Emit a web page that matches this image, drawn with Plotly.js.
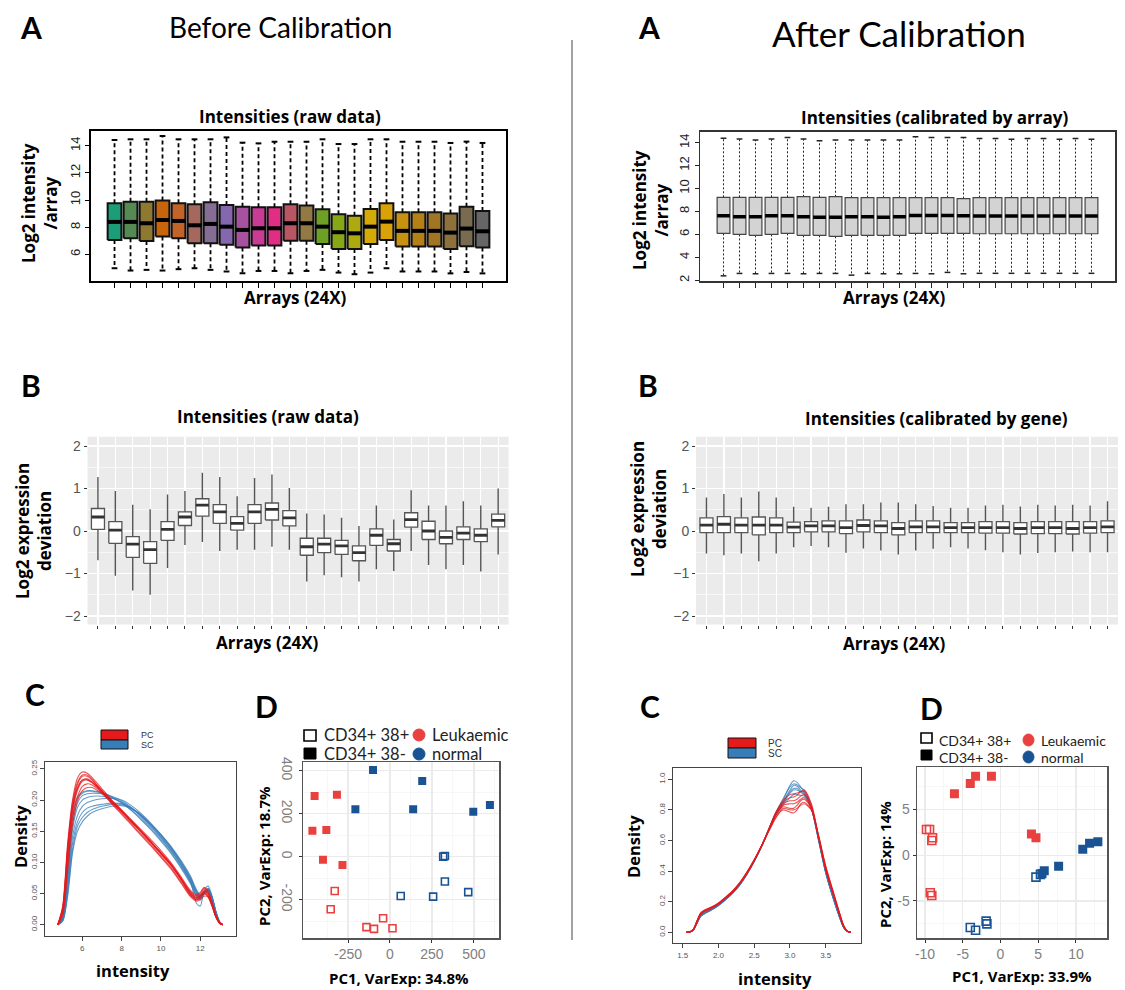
<!DOCTYPE html>
<html><head><meta charset="utf-8">
<script src="https://cdn.plot.ly/plotly-3.0.1.min.js"></script>
<style>html,body{margin:0;padding:0;background:#fff}#chart{width:1125px;height:990px}svg text{font-variant-ligatures:none}</style>
</head><body><div id="chart"></div>
<script>
const W = 1125, H = 990;

// ---------- categories ----------
const arrayIdx = [1,2,3,4,5,6,7,8,9,10,11,12,13,14,15,16,17,18,19,20,21,22,23,24];
const arrayColors = ['#1B9E77','#558B53','#8F7830','#C8640C','#C36328','#A5685E','#866D94','#8467AE','#A751A1','#C93B95','#E12E85','#BA5564','#937A44','#6CA123','#87A717','#AEA90E','#D5AA06','#DBA207','#C7920F','#B48117','#A07523','#8D703A','#796B50','#666666'];

// ---------- A: intensities raw (log2) ----------
const rawHigh = [14.42,14.47,14.47,14.71,14.47,14.47,14.47,14.61,14.22,14.17,14.29,14.29,14.29,14.47,14.12,14.12,14.47,14.47,14.29,14.29,14.29,14.2,14.3,14.2];
const rawQ3   = [9.76,9.88,9.88,9.96,9.76,9.69,9.83,9.64,9.51,9.47,9.47,9.69,9.59,9.32,8.95,8.85,9.34,9.76,9.10,9.10,9.10,9.0,9.5,9.2];
const rawMed  = [8.39,8.39,8.29,8.53,8.46,8.14,8.24,8.04,7.80,7.92,7.92,8.29,8.29,8.04,7.63,7.55,8.04,8.41,7.73,7.73,7.73,7.6,7.9,7.7];
const rawQ1   = [7.06,7.19,6.99,7.31,7.19,6.82,6.82,6.70,6.50,6.65,6.65,7.01,7.01,6.77,6.40,6.40,6.77,7.06,6.57,6.57,6.57,6.4,6.6,6.5];
const rawLow  = [4.98,4.81,4.86,4.81,4.91,4.98,4.86,4.74,4.61,4.78,4.78,4.61,4.78,4.86,4.66,4.54,4.66,4.98,4.74,4.74,4.74,4.6,4.7,4.6];

// ---------- A: intensities calibrated by array ----------
const calHigh = [14.38,14.32,14.23,14.32,14.44,14.32,14.17,14.23,14.23,14.23,14.23,14.23,14.52,14.44,14.44,14.44,14.35,14.35,14.3,14.35,14.35,14.3,14.35,14.3];
const calQ3   = [9.23,9.23,9.23,9.23,9.23,9.28,9.23,9.28,9.20,9.20,9.20,9.20,9.20,9.20,9.20,9.12,9.2,9.2,9.2,9.2,9.2,9.2,9.2,9.2];
const calMed  = [7.62,7.54,7.54,7.62,7.62,7.54,7.48,7.48,7.54,7.54,7.48,7.54,7.65,7.65,7.65,7.62,7.6,7.6,7.6,7.6,7.6,7.6,7.6,7.6];
const calQ1   = [6.08,5.99,5.91,5.99,6.08,5.91,5.91,5.82,5.91,5.91,5.91,5.91,6.08,6.08,6.08,6.08,6.05,6.05,6.05,6.05,6.05,6.05,6.05,6.05];
const calLow  = [2.38,2.59,2.56,2.59,2.59,2.56,2.59,2.59,2.44,2.59,2.56,2.56,2.59,2.56,2.68,2.56,2.6,2.6,2.6,2.6,2.6,2.6,2.6,2.6];

// ---------- B: expression deviation raw ----------
const devRawHigh = [1.27,0.94,0.62,0.51,0.86,0.94,1.37,1.27,0.82,1.25,1.33,1.01,0.41,0.39,0.31,0.12,0.60,0.27,0.96,0.6,0.6,0.7,0.6,1.0];
const devRawQ3   = [0.53,0.22,-0.13,-0.25,0.22,0.45,0.76,0.62,0.34,0.62,0.66,0.48,-0.17,-0.17,-0.22,-0.35,0.05,-0.20,0.43,0.23,0.0,0.1,0.05,0.4];
const devRawMed  = [0.33,0.02,-0.31,-0.44,0.04,0.33,0.61,0.45,0.18,0.45,0.51,0.31,-0.37,-0.31,-0.35,-0.51,-0.10,-0.30,0.27,0.0,-0.15,-0.05,-0.1,0.25];
const devRawQ1   = [0.04,-0.29,-0.62,-0.76,-0.22,0.13,0.35,0.18,0.02,0.18,0.26,0.12,-0.57,-0.51,-0.55,-0.70,-0.34,-0.47,0.09,-0.2,-0.3,-0.2,-0.25,0.1];
const devRawLow  = [-0.69,-1.05,-1.40,-1.50,-0.87,-0.33,-0.26,-0.47,-0.44,-0.44,-0.37,-0.44,-1.19,-1.04,-1.09,-1.19,-0.90,-0.94,-0.47,-0.8,-0.9,-0.8,-0.95,-0.55];

// ---------- B: expression deviation calibrated by gene ----------
const devGeneHigh = [0.79,0.87,0.79,0.93,0.79,0.57,0.55,0.57,0.63,0.63,0.67,0.67,0.63,0.59,0.55,0.55,0.6,0.62,0.58,0.62,0.6,0.62,0.6,0.7];
const devGeneQ3   = [0.31,0.34,0.31,0.33,0.31,0.21,0.22,0.24,0.24,0.26,0.24,0.20,0.24,0.24,0.20,0.20,0.22,0.22,0.2,0.22,0.22,0.22,0.22,0.24];
const devGeneMed  = [0.14,0.16,0.14,0.14,0.14,0.09,0.12,0.12,0.08,0.13,0.12,0.06,0.10,0.10,0.08,0.08,0.08,0.08,0.06,0.08,0.08,0.06,0.08,0.1];
const devGeneQ1   = [-0.04,-0.04,-0.04,-0.09,-0.04,-0.04,-0.02,-0.02,-0.06,-0.02,-0.04,-0.09,-0.04,-0.04,-0.04,-0.04,-0.05,-0.05,-0.07,-0.06,-0.06,-0.07,-0.05,-0.04];
const devGeneLow  = [-0.53,-0.57,-0.53,-0.71,-0.53,-0.38,-0.35,-0.38,-0.51,-0.41,-0.46,-0.55,-0.46,-0.42,-0.38,-0.41,-0.45,-0.5,-0.55,-0.52,-0.5,-0.48,-0.5,-0.5];

// ---------- C: density before calibration ----------
const densRawX = [4.75,5.0,5.25,5.5,5.75,6.0,6.25,6.5,7.0,7.5,8.0,8.5,9.0,9.5,10.0,10.5,11.0,11.5,11.8,12.0,12.2,12.4,12.6,12.8,13.0,13.15];
const densRawPC = [
 [0,0.03,0.13,0.2,0.235,0.245,0.243,0.236,0.218,0.2,0.184,0.167,0.15,0.133,0.115,0.097,0.075,0.05,0.042,0.046,0.05,0.045,0.03,0.012,0.002,0],
 [0,0.025,0.12,0.19,0.225,0.238,0.238,0.232,0.215,0.198,0.182,0.165,0.148,0.131,0.113,0.095,0.073,0.048,0.04,0.044,0.052,0.047,0.032,0.013,0.002,0],
 [0,0.02,0.105,0.18,0.215,0.23,0.232,0.228,0.214,0.198,0.182,0.166,0.149,0.132,0.114,0.096,0.074,0.05,0.043,0.047,0.055,0.05,0.034,0.014,0.003,0],
 [0,0.018,0.095,0.17,0.205,0.222,0.226,0.224,0.212,0.197,0.182,0.166,0.15,0.133,0.116,0.098,0.076,0.053,0.046,0.05,0.058,0.052,0.035,0.015,0.003,0],
 [0,0.028,0.125,0.195,0.228,0.24,0.24,0.233,0.213,0.194,0.177,0.16,0.143,0.126,0.108,0.09,0.068,0.045,0.038,0.04,0.046,0.044,0.03,0.012,0.002,0],
 [0,0.022,0.11,0.185,0.218,0.232,0.234,0.229,0.215,0.199,0.184,0.168,0.152,0.136,0.119,0.1,0.078,0.055,0.048,0.052,0.06,0.054,0.036,0.015,0.003,0],
 [0,0.015,0.085,0.16,0.198,0.215,0.22,0.22,0.21,0.196,0.181,0.165,0.149,0.132,0.115,0.097,0.075,0.052,0.044,0.047,0.053,0.05,0.034,0.014,0.003,0],
 [0,0.026,0.118,0.188,0.22,0.232,0.233,0.228,0.212,0.195,0.179,0.162,0.145,0.128,0.11,0.092,0.07,0.047,0.04,0.043,0.05,0.046,0.031,0.012,0.002,0]
];
const densRawSC = [
 [0,0.012,0.09,0.175,0.205,0.213,0.215,0.215,0.212,0.205,0.196,0.184,0.17,0.154,0.136,0.117,0.094,0.068,0.048,0.042,0.05,0.054,0.04,0.018,0.003,0],
 [0,0.01,0.075,0.16,0.195,0.207,0.21,0.211,0.21,0.206,0.199,0.188,0.174,0.158,0.14,0.12,0.097,0.07,0.05,0.043,0.052,0.057,0.042,0.019,0.003,0],
 [0,0.008,0.06,0.14,0.175,0.19,0.196,0.199,0.202,0.203,0.2,0.191,0.178,0.162,0.144,0.124,0.101,0.074,0.053,0.045,0.053,0.058,0.044,0.02,0.004,0],
 [0,0.006,0.05,0.12,0.158,0.172,0.18,0.185,0.19,0.193,0.193,0.187,0.176,0.161,0.144,0.125,0.102,0.076,0.055,0.046,0.052,0.058,0.045,0.021,0.004,0],
 [0,0.011,0.085,0.17,0.202,0.211,0.214,0.214,0.211,0.204,0.195,0.183,0.168,0.152,0.134,0.115,0.092,0.066,0.046,0.04,0.049,0.055,0.041,0.018,0.003,0],
 [0,0.007,0.055,0.13,0.165,0.18,0.187,0.19,0.193,0.195,0.194,0.187,0.175,0.16,0.142,0.123,0.1,0.073,0.052,0.044,0.05,0.056,0.044,0.02,0.004,0],
 [0,0.009,0.07,0.152,0.188,0.2,0.204,0.206,0.206,0.203,0.197,0.187,0.173,0.157,0.139,0.12,0.097,0.07,0.035,0.03,0.055,0.062,0.046,0.021,0.004,0],
 [0,0.006,0.045,0.115,0.15,0.165,0.174,0.18,0.186,0.19,0.191,0.186,0.175,0.161,0.145,0.126,0.104,0.078,0.057,0.048,0.053,0.057,0.044,0.02,0.004,0]
];

// ---------- C: density after calibration ----------
const densCalX = [1.55,1.6,1.65,1.7,1.75,1.8,1.9,2.0,2.1,2.2,2.3,2.4,2.5,2.6,2.7,2.8,2.9,3.0,3.05,3.1,3.15,3.2,3.3,3.4,3.5,3.6,3.7,3.75,3.8,3.85];
const densCalPC = [
 [0,0.003,0.02,0.075,0.125,0.142,0.163,0.19,0.228,0.27,0.325,0.395,0.475,0.565,0.66,0.75,0.80,0.785,0.78,0.80,0.84,0.85,0.80,0.63,0.43,0.27,0.115,0.045,0.009,0],
 [0,0.003,0.02,0.072,0.12,0.138,0.16,0.188,0.226,0.268,0.322,0.39,0.47,0.56,0.66,0.76,0.82,0.81,0.81,0.83,0.86,0.87,0.81,0.62,0.42,0.265,0.112,0.043,0.008,0],
 [0,0.003,0.019,0.07,0.118,0.136,0.158,0.186,0.224,0.266,0.32,0.388,0.468,0.56,0.665,0.77,0.84,0.86,0.86,0.87,0.89,0.90,0.82,0.62,0.415,0.26,0.108,0.04,0.008,0],
 [0,0.002,0.018,0.068,0.115,0.134,0.156,0.184,0.222,0.264,0.318,0.386,0.466,0.56,0.67,0.78,0.85,0.88,0.885,0.895,0.92,0.93,0.84,0.63,0.41,0.255,0.105,0.038,0.007,0],
 [0,0.003,0.021,0.076,0.126,0.144,0.165,0.192,0.23,0.272,0.326,0.394,0.472,0.56,0.655,0.745,0.81,0.80,0.80,0.81,0.83,0.84,0.80,0.635,0.435,0.275,0.118,0.046,0.009,0],
 [0,0.003,0.02,0.073,0.121,0.139,0.161,0.189,0.227,0.269,0.323,0.392,0.472,0.562,0.662,0.765,0.83,0.84,0.84,0.85,0.87,0.88,0.815,0.625,0.42,0.262,0.11,0.042,0.008,0],
 [0,0.002,0.018,0.069,0.116,0.135,0.157,0.185,0.223,0.265,0.319,0.387,0.467,0.562,0.668,0.78,0.86,0.90,0.905,0.91,0.92,0.92,0.83,0.62,0.41,0.255,0.105,0.038,0.007,0]
];
const densCalSC = [
 [0,0.002,0.015,0.06,0.105,0.122,0.147,0.176,0.215,0.258,0.312,0.382,0.465,0.56,0.67,0.78,0.86,0.96,0.99,0.98,0.95,0.92,0.81,0.60,0.39,0.23,0.09,0.032,0.006,0],
 [0,0.002,0.015,0.06,0.104,0.121,0.146,0.175,0.214,0.257,0.311,0.381,0.464,0.558,0.668,0.775,0.85,0.93,0.96,0.955,0.93,0.91,0.81,0.605,0.392,0.232,0.092,0.033,0.006,0],
 [0,0.002,0.016,0.062,0.107,0.124,0.149,0.178,0.217,0.26,0.314,0.384,0.466,0.56,0.668,0.772,0.84,0.91,0.93,0.93,0.915,0.90,0.81,0.61,0.395,0.235,0.094,0.034,0.006,0],
 [0,0.002,0.016,0.063,0.108,0.125,0.15,0.179,0.218,0.261,0.315,0.385,0.467,0.56,0.665,0.768,0.83,0.88,0.90,0.90,0.895,0.89,0.81,0.61,0.397,0.236,0.095,0.035,0.007,0],
 [0,0.002,0.015,0.059,0.103,0.12,0.145,0.174,0.213,0.256,0.31,0.38,0.463,0.558,0.67,0.782,0.87,0.95,0.97,0.965,0.945,0.93,0.82,0.605,0.39,0.23,0.09,0.032,0.006,0],
 [0,0.002,0.016,0.061,0.106,0.123,0.148,0.177,0.216,0.259,0.313,0.383,0.465,0.559,0.667,0.775,0.845,0.92,0.94,0.94,0.92,0.905,0.81,0.607,0.393,0.233,0.093,0.033,0.006,0]
];

// ---------- D: PCA ----------
const pcaRawX = [-449,-316,-462,-379,-399,-283,-101,-206,192,138,496,595,-329,-353,-140,-95,-41,15,64,257,327,317,327,466];
const pcaRawY = [282,288,121,124,-15,-39,403,220,352,220,209,240,-160,-245,-328,-336,-287,-333,-183,-186,3,0,-116,-165];
const pcaCalX = [-6.1,-4.0,-3.3,-1.2,4.1,4.7,5.5,5.8,7.7,10.9,11.8,12.9,-9.8,-9.4,-9.0,-9.1,-9.3,-9.1,-4.0,-3.3,-1.9,-1.8,4.7,5.3];
const pcaCalY = [6.7,7.8,8.6,8.6,2.3,1.9,-2.0,-1.7,-1.2,0.65,1.3,1.45,2.8,2.8,1.9,1.6,-4.1,-4.4,-7.9,-8.2,-7.2,-7.5,-2.4,-2.1];
const pcaStatus = ['Leukaemic','Leukaemic','Leukaemic','Leukaemic','Leukaemic','Leukaemic','normal','normal','normal','normal','normal','normal','Leukaemic','Leukaemic','Leukaemic','Leukaemic','Leukaemic','Leukaemic','normal','normal','normal','normal','normal','normal'];
const pcaCell = ['CD34+ 38-','CD34+ 38-','CD34+ 38-','CD34+ 38-','CD34+ 38-','CD34+ 38-','CD34+ 38-','CD34+ 38-','CD34+ 38-','CD34+ 38-','CD34+ 38-','CD34+ 38-','CD34+ 38+','CD34+ 38+','CD34+ 38+','CD34+ 38+','CD34+ 38+','CD34+ 38+','CD34+ 38+','CD34+ 38+','CD34+ 38+','CD34+ 38+','CD34+ 38+','CD34+ 38+'];

// ---------- helpers ----------
const dx = (a, b) => [a / W, b / W];
const dy = (top, bot) => [1 - bot / H, 1 - top / H];
const traces = [];

function boxSet(xa, ya, hi, q3, med, q1, lo, st) {
  const wx = [], wy = [], cx = [], cy = [], mx = [], my = [];
  arrayIdx.forEach((c, i) => {
    wx.push(c, c, null, c, c, null); wy.push(q3[i], hi[i], null, q1[i], lo[i], null);
    if (st.cap) { cx.push(c - st.cap, c + st.cap, null, c - st.cap, c + st.cap, null); cy.push(hi[i], hi[i], null, lo[i], lo[i], null); }
    mx.push(c - st.hw, c + st.hw, null); my.push(med[i], med[i], null);
  });
  traces.push({type:'scatter', mode:'lines', x:wx, y:wy, xaxis:xa, yaxis:ya, line:{color:st.wColor, width:st.wWidth, dash:st.wDash}, hoverinfo:'skip'});
  if (st.cap) traces.push({type:'scatter', mode:'lines', x:cx, y:cy, xaxis:xa, yaxis:ya, line:{color:st.cColor, width:st.cWidth}, hoverinfo:'skip'});
  arrayIdx.forEach((c, i) => {
    traces.push({type:'scatter', mode:'lines', x:[c - st.hw, c + st.hw, c + st.hw, c - st.hw, c - st.hw], y:[q1[i], q1[i], q3[i], q3[i], q1[i]],
      xaxis:xa, yaxis:ya, fill:'toself', fillcolor: st.fills ? st.fills[i] : st.fill, line:{color:st.bColor, width:st.bWidth}, hoverinfo:'skip'});
  });
  traces.push({type:'scatter', mode:'lines', x:mx, y:my, xaxis:xa, yaxis:ya, line:{color:st.mColor, width:st.mWidth}, hoverinfo:'skip'});
}

boxSet('x', 'y', rawHigh, rawQ3, rawMed, rawQ1, rawLow, {hw:0.43, cap:0.18, wColor:'#000', wWidth:1.8, wDash:'4px,3px', cColor:'#000', cWidth:2, fills:arrayColors, bColor:'#111', bWidth:2, mColor:'#000', mWidth:4});
boxSet('x2', 'y2', calHigh, calQ3, calMed, calQ1, calLow, {hw:0.4, cap:0.18, wColor:'#222', wWidth:1, wDash:'2px,2px', cColor:'#222', cWidth:1.5, fill:'#D3D3D3', bColor:'#444', bWidth:1.2, mColor:'#000', mWidth:3.5});
boxSet('x3', 'y3', devRawHigh, devRawQ3, devRawMed, devRawQ1, devRawLow, {hw:0.375, cap:0, wColor:'#555', wWidth:1.4, wDash:'solid', fill:'#FFFFFF', bColor:'#555', bWidth:1.3, mColor:'#333', mWidth:2.8});
boxSet('x4', 'y4', devGeneHigh, devGeneQ3, devGeneMed, devGeneQ1, devGeneLow, {hw:0.375, cap:0, wColor:'#555', wWidth:1.4, wDash:'solid', fill:'#FFFFFF', bColor:'#555', bWidth:1.3, mColor:'#333', mWidth:2.8});

function densSet(xa, ya, xs, curves, color) {
  curves.forEach(ys => traces.push({type:'scatter', mode:'lines', x:xs, y:ys, xaxis:xa, yaxis:ya, line:{color:color, width:1.1, shape:'spline', smoothing:0.8}, hoverinfo:'skip'}));
}
densSet('x5', 'y5', densRawX, densRawSC, 'rgba(55,126,184,0.75)');
densSet('x5', 'y5', densRawX, densRawPC, 'rgba(228,26,28,0.75)');
densSet('x7', 'y7', densCalX, densCalSC, 'rgba(55,126,184,0.75)');
densSet('x7', 'y7', densCalX, densCalPC, 'rgba(228,26,28,0.75)');

const statusColor = {Leukaemic:'#E8413F', normal:'#1A5394'};
function pcaSet(xa, ya, xs, ys, filledSize, openSize) {
  ['CD34+ 38+', 'CD34+ 38-'].forEach(cell => {
    ['Leukaemic', 'normal'].forEach(st => {
      const px = [], py = [];
      xs.forEach((v, i) => { if (pcaCell[i] === cell && pcaStatus[i] === st) { px.push(v); py.push(ys[i]); } });
      const open = cell === 'CD34+ 38+';
      traces.push({type:'scatter', mode:'markers', x:px, y:py, xaxis:xa, yaxis:ya, hoverinfo:'skip',
        marker:{symbol: open ? 'square-open' : 'square', size: open ? openSize : filledSize, color: statusColor[st], line:{width: open ? 1.6 : 0, color: statusColor[st]}}});
    });
  });
}
pcaSet('x6', 'y6', pcaRawX, pcaRawY, 8, 7);
pcaSet('x8', 'y8', pcaCalX, pcaCalY, 9, 8);

// ---------- axes ----------
const noGrid = {showgrid:false, zeroline:false, fixedrange:true};
const rTick = {family:'Liberation Sans, Arial, sans-serif', size:13, color:'#222'};
const cTick = {family:'Liberation Sans, Arial, sans-serif', size:8, color:'#555'};
const gTick = {family:'Liberation Sans, Arial, sans-serif', size:14, color:'#555'};
const dTick = {family:'Liberation Sans, Arial, sans-serif', size:14, color:'#808080'};

const layout = {
  width:W, height:H, margin:{l:0, r:0, t:0, b:0}, paper_bgcolor:'#fff', plot_bgcolor:'rgba(0,0,0,0)', showlegend:false,
  font:{family:'Liberation Sans, Arial, sans-serif'},
  xaxis: Object.assign({}, noGrid, {domain:dx(91,506), range:[-0.47,25.47], anchor:'y', showline:true, mirror:true, linecolor:'#000', linewidth:2, ticks:'outside', ticklen:5, tickwidth:1.5, tickcolor:'#000', tickmode:'array', tickvals:arrayIdx, showticklabels:false}),
  yaxis: Object.assign({}, noGrid, {domain:dy(131,281), range:[4.04,15.08], anchor:'x', showline:true, mirror:true, linecolor:'#000', linewidth:2, ticks:'outside', ticklen:4, tickcolor:'#000', tickmode:'array', tickvals:[6,8,10,12,14], tickangle:-90, tickfont:rTick}),
  xaxis2: Object.assign({}, noGrid, {domain:dx(700,1115), range:[-0.47,25.47], anchor:'y2', showline:true, mirror:true, linecolor:'#333', linewidth:1.5, ticks:'outside', ticklen:5, tickwidth:1.2, tickcolor:'#222', tickmode:'array', tickvals:arrayIdx, showticklabels:false}),
  yaxis2: Object.assign({}, noGrid, {domain:dy(131.7,281), range:[1.93,14.95], anchor:'x2', showline:true, mirror:true, linecolor:'#333', linewidth:1.5, ticks:'outside', ticklen:4, tickcolor:'#222', tickmode:'array', tickvals:[2,4,6,8,10,12,14], tickangle:-90, tickfont:rTick}),
  xaxis3: {domain:dx(87.5,508.6), range:[0.4,24.6], anchor:'y3', showline:false, zeroline:false, fixedrange:true, showgrid:true, gridcolor:'#fff', gridwidth:1.2, ticks:'outside', ticklen:3, tickcolor:'#333', tickmode:'array', tickvals:arrayIdx, showticklabels:false},
  yaxis3: {domain:dy(436.7,624.5), range:[-2.2,2.22], anchor:'x3', showline:false, zeroline:false, fixedrange:true, showgrid:true, gridcolor:'#fff', gridwidth:1.2, ticks:'outside', ticklen:3, tickcolor:'#333', tickmode:'array', tickvals:[-2,-1,0,1,2], tickfont:gTick,
    minor:{tickmode:'array', tickvals:[-1.5,-0.5,0.5,1.5], showgrid:true, gridcolor:'#fff', gridwidth:0.6, ticks:''}},
  xaxis4: {domain:dx(696,1118), range:[0.4,24.6], anchor:'y4', showline:false, zeroline:false, fixedrange:true, showgrid:true, gridcolor:'#fff', gridwidth:1.2, ticks:'outside', ticklen:3, tickcolor:'#333', tickmode:'array', tickvals:arrayIdx, showticklabels:false},
  yaxis4: {domain:dy(436.7,624.5), range:[-2.2,2.22], anchor:'x4', showline:false, zeroline:false, fixedrange:true, showgrid:true, gridcolor:'#fff', gridwidth:1.2, ticks:'outside', ticklen:3, tickcolor:'#333', tickmode:'array', tickvals:[-2,-1,0,1,2], tickfont:gTick,
    minor:{tickmode:'array', tickvals:[-1.5,-0.5,0.5,1.5], showgrid:true, gridcolor:'#fff', gridwidth:0.6, ticks:''}},
  xaxis5: Object.assign({}, noGrid, {domain:dx(45,236), range:[4.1,13.82], anchor:'y5', showline:true, mirror:true, linecolor:'#444', linewidth:1, ticks:'outside', ticklen:4, tickcolor:'#444', tickmode:'array', tickvals:[6,8,10,12], tickfont:cTick}),
  yaxis5: Object.assign({}, noGrid, {domain:dy(762,936), range:[-0.018,0.261], anchor:'x5', showline:true, mirror:true, linecolor:'#444', linewidth:1, ticks:'outside', ticklen:4, tickcolor:'#444', tickmode:'array', tickvals:[0,0.05,0.1,0.15,0.2,0.25], ticktext:['0.00','0.05','0.10','0.15','0.20','0.25'], tickangle:-90, tickfont:cTick}),
  xaxis6: {domain:dx(303,499.3), range:[-518,651], anchor:'y6', zeroline:false, fixedrange:true, showline:true, mirror:true, linecolor:'#555', linewidth:1.2, showgrid:true, gridcolor:'#EBEBEB', gridwidth:1.2, ticks:'outside', ticklen:3, tickcolor:'#333', tickmode:'array', tickvals:[-250,0,250,500], ticktext:['-250','0','250','500'], tickfont:dTick,
    minor:{tickmode:'array', tickvals:[-375,-125,125,375,625], showgrid:true, gridcolor:'#F2F2F2', gridwidth:0.6, ticks:''}},
  yaxis6: {domain:dy(762.3,938.3), range:[-380,439], anchor:'x6', zeroline:false, fixedrange:true, showline:true, mirror:true, linecolor:'#555', linewidth:1.2, showgrid:true, gridcolor:'#EBEBEB', gridwidth:1.2, ticks:'outside', ticklen:3, tickcolor:'#333', tickmode:'array', tickvals:[-200,0,200,400], ticktext:['-200','0','200','400'], tickangle:90, tickfont:dTick,
    minor:{tickmode:'array', tickvals:[-300,-100,100,300], showgrid:true, gridcolor:'#F2F2F2', gridwidth:0.6, ticks:''}},
  xaxis7: Object.assign({}, noGrid, {domain:dx(673,861), range:[1.364,3.994], anchor:'y7', showline:true, mirror:true, linecolor:'#444', linewidth:1, ticks:'outside', ticklen:4, tickcolor:'#444', tickmode:'array', tickvals:[1.5,2,2.5,3,3.5], ticktext:['1.5','2.0','2.5','3.0','3.5'], tickfont:cTick}),
  yaxis7: Object.assign({}, noGrid, {domain:dy(768,943), range:[-0.07,1.074], anchor:'x7', showline:true, mirror:true, linecolor:'#444', linewidth:1, ticks:'outside', ticklen:4, tickcolor:'#444', tickmode:'array', tickvals:[0,0.2,0.4,0.6,0.8,1], ticktext:['0.0','0.2','0.4','0.6','0.8','1.0'], tickangle:-90, tickfont:cTick}),
  xaxis8: {domain:dx(916.7,1107.3), range:[-11.1,14.15], anchor:'y8', zeroline:false, fixedrange:true, showline:true, mirror:true, linecolor:'#555', linewidth:1.2, showgrid:true, gridcolor:'#EBEBEB', gridwidth:1.2, ticks:'outside', ticklen:3, tickcolor:'#333', tickmode:'array', tickvals:[-10,-5,0,5,10], ticktext:['-10','-5','0','5','10'], tickfont:dTick,
    minor:{tickmode:'array', tickvals:[-7.5,-2.5,2.5,7.5,12.5], showgrid:true, gridcolor:'#F2F2F2', gridwidth:0.6, ticks:''}},
  yaxis8: {domain:dy(767.3,938.3), range:[-9.07,9.58], anchor:'x8', zeroline:false, fixedrange:true, showline:true, mirror:true, linecolor:'#555', linewidth:1.2, showgrid:true, gridcolor:'#EBEBEB', gridwidth:1.2, ticks:'outside', ticklen:3, tickcolor:'#333', tickmode:'array', tickvals:[-5,0,5], ticktext:['-5','0','5'], tickfont:dTick,
    minor:{tickmode:'array', tickvals:[-7.5,-2.5,2.5,7.5], showgrid:true, gridcolor:'#F2F2F2', gridwidth:0.6, ticks:''}}
};

// ---------- text ----------
const ann = [];
const OS = 'Open Sans, Noto Sans, sans-serif';
const LATO = 'Lato, Noto Sans, sans-serif';
function txt(t, x, y, size, extra, fam) {
  ann.push(Object.assign({text:t, x:x / W, y:1 - y / H, xref:'paper', yref:'paper', showarrow:false, xanchor:'center', yanchor:'middle',
    font:{family:fam || OS, size:size, color:'#000'}}, extra || {}));
}
txt('<b>A</b>', 31, 27, 30, null, LATO); txt('Before Calibration', 280, 27, 28, null, LATO);
txt('<b>A</b>', 649, 27, 30, null, LATO); txt('After Calibration', 899, 33, 35, null, LATO);
txt('<b>B</b>', 31, 385, 30, null, LATO); txt('<b>B</b>', 648, 385, 30, null, LATO);
txt('<b>C</b>', 35, 694, 30, null, LATO); txt('<b>D</b>', 266, 706, 30, null, LATO);
txt('<b>C</b>', 650, 706, 30, null, LATO); txt('<b>D</b>', 931, 708, 30, null, LATO);

txt('<b>Intensities (raw data)</b>', 290, 117, 17);
txt('<b>Intensities (calibrated by array)</b>', 934, 118, 17);
txt('<b>Intensities (raw data)</b>', 268, 416, 17);
txt('<b>Intensities (calibrated by gene)</b>', 936, 418, 17);
txt('<b>Arrays (24X)</b>', 295, 298, 17);
txt('<b>Arrays (24X)</b>', 894, 298, 17);
txt('<b>Arrays (24X)</b>', 267, 642, 17);
txt('<b>Arrays (24X)</b>', 894, 643, 17);
txt('<b>Log2 intensity<br>/array</b>', 39, 203, 17, {textangle:-90});
txt('<b>Log2 intensity<br>/array</b>', 650, 210, 17, {textangle:-90});
txt('<b>Log2 expression<br>deviation</b>', 33, 531, 17, {textangle:-90});
txt('<b>Log2 expression<br>deviation</b>', 648, 509, 17, {textangle:-90});
txt('<b>Density</b>', 20, 837, 16.5, {textangle:-90});
txt('<b>intensity</b>', 133, 970, 16.5);
txt('<b>Density</b>', 633, 847, 16.5, {textangle:-90});
txt('<b>intensity</b>', 775, 978, 16.5);
txt('<b>PC2, VarExp: 18.7%</b>', 264, 856, 15, {textangle:-90});
txt('<b>PC1, VarExp: 34.8%</b>', 399, 978, 15);
txt('<b>PC2, VarExp: 14%</b>', 885, 865, 15, {textangle:-90});
txt('<b>PC1, VarExp: 33.9%</b>', 1022, 976, 15);

// legends C
const small = (s) => ({family:'Liberation Sans, Arial, sans-serif', size:s, color:'#333'});
txt('PC', 139, 735, 9, {xanchor:'left', font:small(9)}); txt('SC', 139, 745, 9, {xanchor:'left', font:small(9)});
txt('PC', 766, 743, 10, {xanchor:'left', font:small(10)}); txt('SC', 766, 753, 10, {xanchor:'left', font:small(10)});
// legends D
const legF = (s) => ({family:LATO, size:s, color:'#222'});
txt('CD34+ 38+', 322, 735, 16.5, {xanchor:'left', font:legF(16.5)}); txt('CD34+ 38-', 322, 754, 16.5, {xanchor:'left', font:legF(16.5)});
txt('Leukaemic', 430, 735, 16.5, {xanchor:'left', font:legF(16.5)}); txt('normal', 430, 754, 16.5, {xanchor:'left', font:legF(16.5)});
txt('CD34+ 38+', 938, 740, 14, {xanchor:'left', font:legF(14), borderpad:0}); txt('CD34+ 38-', 938, 757, 14, {xanchor:'left', font:legF(14), borderpad:0});
txt('Leukaemic', 1040, 740, 14, {xanchor:'left', font:legF(14), borderpad:0}); txt('normal', 1040, 757, 14, {xanchor:'left', font:legF(14), borderpad:0});
layout.annotations = ann;

// ---------- decorations ----------
const P = (x0, y0, x1, y1) => ({xref:'paper', yref:'paper', x0:x0 / W, x1:x1 / W, y0:1 - y0 / H, y1:1 - y1 / H});
const shp = [];
shp.push(Object.assign({type:'line', line:{color:'#444', width:1}}, P(572, 40, 572, 940)));
['x3', 'x4'].forEach((a, k) => shp.push({type:'rect', xref:a + ' domain', yref:(k ? 'y4' : 'y3') + ' domain', x0:0, x1:1, y0:0, y1:1, fillcolor:'#EBEBEB', line:{width:0}, layer:'below'}));
shp.push(Object.assign({type:'rect', fillcolor:'#E41A1C', line:{color:'#111', width:1}}, P(101, 730, 128, 740)));
shp.push(Object.assign({type:'rect', fillcolor:'#377EB8', line:{color:'#111', width:1}}, P(101, 740, 128, 749)));
shp.push(Object.assign({type:'rect', fillcolor:'#E41A1C', line:{color:'#111', width:1}}, P(728, 738, 756, 748)));
shp.push(Object.assign({type:'rect', fillcolor:'#377EB8', line:{color:'#111', width:1}}, P(728, 748, 756, 758)));
shp.push(Object.assign({type:'rect', fillcolor:'#fff', line:{color:'#000', width:1.6}}, P(304, 730, 316, 741)));
shp.push(Object.assign({type:'rect', fillcolor:'#000', line:{color:'#000', width:1}}, P(304, 748, 316, 759)));
shp.push(Object.assign({type:'circle', fillcolor:'#E8413F', line:{color:'#E8413F', width:1}}, P(413, 729, 425, 741)));
shp.push(Object.assign({type:'circle', fillcolor:'#1A5394', line:{color:'#1A5394', width:1}}, P(413, 748, 425, 760)));
shp.push(Object.assign({type:'rect', fillcolor:'#fff', line:{color:'#000', width:1.6}}, P(921, 733, 932, 743)));
shp.push(Object.assign({type:'rect', fillcolor:'#000', line:{color:'#000', width:1}}, P(921, 750, 932, 760)));
shp.push(Object.assign({type:'circle', fillcolor:'#E8413F', line:{color:'#E8413F', width:1}}, P(1023, 734, 1034, 746)));
shp.push(Object.assign({type:'circle', fillcolor:'#1A5394', line:{color:'#1A5394', width:1}}, P(1023, 751, 1034, 763)));
layout.shapes = shp;

traces.forEach(t => { t.showlegend = false; });
Plotly.newPlot('chart', traces, layout, {staticPlot:true, displayModeBar:false});
</script>
</body></html>
